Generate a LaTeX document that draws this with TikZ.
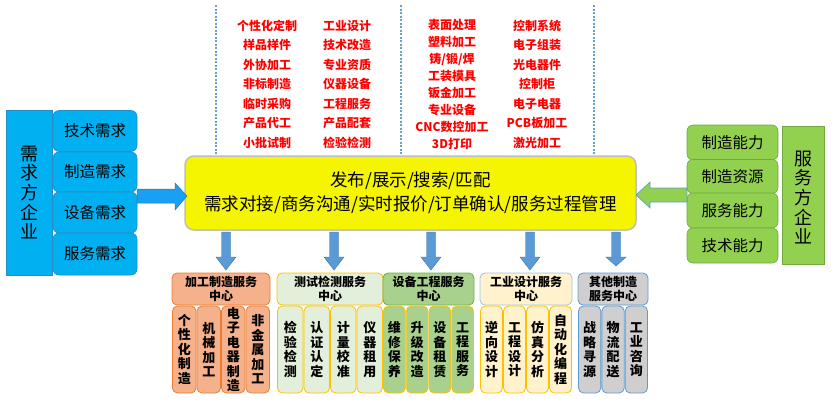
\documentclass[tikz,border=0pt]{standalone}
\usepackage{fontspec}
\setmainfont{Noto Sans CJK SC}
\usetikzlibrary{calc}
\definecolor{cblue}{HTML}{00B0F0}
\definecolor{cbluedk}{HTML}{2A8CC4}
\definecolor{cgreen}{HTML}{92D050}
\definecolor{cgreendk}{HTML}{72A842}
\definecolor{dotblue}{HTML}{6A9FD4}
\definecolor{arrblue}{HTML}{5B9BD5}
\definecolor{arrbluedk}{HTML}{41719C}
\definecolor{cyel}{HTML}{F5F500}
\definecolor{oran}{HTML}{F5B08C}
\definecolor{orandk}{HTML}{ED7D31}
\definecolor{lgreen}{HTML}{E2EFDA}
\definecolor{gold}{HTML}{FFC000}
\definecolor{mgreen}{HTML}{A9D18E}
\definecolor{mgreendk}{HTML}{70AD47}
\definecolor{lyel}{HTML}{FFF2CC}
\definecolor{lblue}{HTML}{9DC3E6}
\definecolor{lgray}{HTML}{D0CECE}
\begin{document}
\begin{tikzpicture}[x=1pt,y=-1pt,
  redtxt/.style={text=red, font=\bfseries\fontsize{12}{19.5}\selectfont, align=center, inner sep=0pt},
  redtxtb/.style={redtxt, font=\bfseries\fontsize{12}{16.9}\selectfont},
  dotline/.style={dotblue, line width=2pt, dash pattern=on 2pt off 1.5pt},
  bluebox/.style={fill=cblue, draw=cbluedk, line width=0.6pt, rounded corners=6pt, inner sep=0pt, font=\fontsize{15.5}{18}\selectfont},
  greenbox/.style={fill=cgreen, draw=cgreendk, line width=0.6pt, rounded corners=6pt, inner sep=0pt, font=\fontsize{15.5}{18}\selectfont},
  bigvert/.style={inner sep=0pt, align=center, font=\fontsize{18}{19.6}\selectfont},
  hdr/.style={rounded corners=5pt, line width=0.8pt, inner sep=0pt, align=center, font=\bfseries\fontsize{12}{14}\selectfont, minimum height=32pt},
  col/.style={rounded corners=5pt, line width=0.8pt, inner sep=0pt, align=center, font=\bfseries\fontsize{13}{14.5}\selectfont, minimum height=87pt},
  darr/.style={fill=arrblue, draw=arrbluedk, line width=0.4pt}
]
\useasboundingbox (0,0) rectangle (835,402);

% dotted vertical lines
\coordinate (d1a) at (216,5); \coordinate (d1b) at (216,156);
\coordinate (d2a) at (401,5); \coordinate (d2b) at (401,156);
\coordinate (d3a) at (594,5); \coordinate (d3b) at (594,156);
\draw[dotline] (d1a) -- (d1b);
\draw[dotline] (d2a) -- (d2b);
\draw[dotline] (d3a) -- (d3b);

% red texts
\node[redtxt] (r1) at (267,84) {个性化定制\\样品样件\\外协加工\\非标制造\\临时采购\\产品代工\\小批试制};
\node[redtxt] (r2) at (347,84) {工业设计\\技术改造\\专业资质\\仪器设备\\工程服务\\产品配套\\检验检测};
\node[redtxtb] (r3) at (452,84.5) {表面处理\\塑料加工\\铸/锻/焊\\工装模具\\钣金加工\\专业设备\\CNC数控加工\\3D打印};
\node[redtxt] (r4) at (537,84) {控制系统\\电子组装\\光电器件\\控制柜\\电子电器\\PCB板加工\\激光加工};

% central yellow box
\node[fill=cyel, draw=black!25, line width=1.5pt, rounded corners=9pt, minimum width=451pt, minimum height=74pt, inner sep=0pt,
  align=center, font=\fontsize{17.5}{24}\selectfont] (hub) at (410.5,193)
  {发布/展示/搜索/匹配\\需求对接/商务沟通/实时报价/订单确认/服务过程管理};

% left side
\node[fill=cblue, draw=cbluedk, line width=0.6pt, minimum width=46pt, minimum height=165pt, inner sep=0pt] (demand) at (29,192.5) {};
\node[bigvert] at (demand.center) {需\\求\\方\\企\\业};
\node[bluebox, minimum width=84pt, minimum height=41pt] (b1) at (95,131) {技术需求};
\node[bluebox, minimum width=84pt, minimum height=40pt] (b2) at (95,172) {制造需求};
\node[bluebox, minimum width=84pt, minimum height=41pt] (b3) at (95,212.5) {设备需求};
\node[bluebox, minimum width=84pt, minimum height=42pt] (b4) at (95,254) {服务需求};

% left arrow
\filldraw[fill=cblue!85!blue!90, draw=arrbluedk, line width=0.5pt]
  (137,189) -- (175,189) -- (175,183) -- (187,196) -- (175,210) -- (175,203) -- (137,203) -- cycle;

% right side
\node[fill=cgreen, draw=cgreendk, line width=0.6pt, minimum width=42pt, minimum height=138pt, inner sep=0pt] (supply) at (803,195) {};
\node[bigvert] at (803,197.5) {服\\务\\方\\企\\业};
\node[greenbox, minimum width=91pt, minimum height=35pt] (g1) at (732.5,142.5) {制造能力};
\node[greenbox, minimum width=91pt, minimum height=34pt] (g2) at (732.5,176.5) {制造资源};
\node[greenbox, minimum width=91pt, minimum height=35pt] (g3) at (732.5,210.5) {服务能力};
\node[greenbox, minimum width=91pt, minimum height=35pt] (g4) at (732.5,245.5) {技术能力};

% right arrow
\filldraw[fill=cgreen, draw=arrblue, line width=0.6pt]
  (687,188) -- (650,188) -- (650,182) -- (636,195) -- (650,208) -- (650,202) -- (687,202) -- cycle;

% down arrows
\foreach \x/\t in {226/270,334/270,431/270,530/270,616/266}{
  \filldraw[darr] ({\x-4.5},232) -- ({\x+4.5},232) -- ({\x+4.5},257) -- ({\x+10},257) -- (\x,\t) -- ({\x-10},257) -- ({\x-4.5},257) -- cycle;
}

% group 1: orange
\node[hdr, fill=oran, draw=orandk, minimum width=98pt] (h1) at (221,289) {加工制造服务\\中心};
\node[col, fill=oran, draw=orandk, minimum width=23.5pt] (c11) at (184.25,349.5) {个\\性\\化\\制\\造};
\node[col, fill=oran, draw=orandk, minimum width=23.5pt] (c12) at (208.75,349.5) {机\\械\\加\\工};
\node[col, fill=oran, draw=orandk, minimum width=23.5pt] (c13) at (233.25,349.5) {电\\子\\电\\器\\制\\造};
\node[col, fill=oran, draw=orandk, minimum width=23.5pt] (c14) at (257.75,349.5) {非\\金\\属\\加\\工};

% group 2: test
\node[hdr, fill=lgreen, draw=gold, minimum width=106pt] (h2) at (330,289) {测试检测服务\\中心};
\node[col, fill=lgreen, draw=gold, minimum width=25.5pt] (c21) at (290.25,349.5) {检\\验\\检\\测};
\node[col, fill=lgreen, draw=gold, minimum width=25.5pt] (c22) at (316.75,349.5) {认\\证\\认\\定};
\node[col, fill=lgreen, draw=gold, minimum width=25.5pt] (c23) at (343.25,349.5) {计\\量\\校\\准};
\node[col, fill=lgreen, draw=gold, minimum width=25.5pt] (c24) at (369.75,349.5) {仪\\器\\租\\用};

% group 3: equipment
\node[hdr, fill=mgreen, draw=mgreendk, minimum width=91pt] (h3) at (428.5,289) {设备工程服务\\中心};
\node[col, fill=mgreen, draw=gold, minimum width=21.75pt] (c31) at (394.375,349.5) {维\\修\\保\\养};
\node[col, fill=mgreen, draw=gold, minimum width=21.75pt] (c32) at (417.125,349.5) {升\\级\\改\\造};
\node[col, fill=mgreen, draw=gold, minimum width=21.75pt] (c33) at (439.875,349.5) {设\\备\\租\\赁};
\node[col, fill=mgreen, draw=gold, minimum width=21.75pt] (c34) at (462.625,349.5) {工\\程\\服\\务};

% group 4: design
\node[hdr, fill=lyel, draw=lblue, minimum width=92pt] (h4) at (526,289) {工业设计服务\\中心};
\node[col, fill=lyel, draw=gold, minimum width=22pt] (c41) at (491.5,349.5) {逆\\向\\设\\计};
\node[col, fill=lyel, draw=gold, minimum width=22pt] (c42) at (514.5,349.5) {工\\程\\设\\计};
\node[col, fill=lyel, draw=gold, minimum width=22pt] (c43) at (537.5,349.5) {仿\\真\\分\\析};
\node[col, fill=lyel, draw=gold, minimum width=22pt] (c44) at (560.5,349.5) {自\\动\\化\\编\\程};

% group 5: other
\node[hdr, fill=lgray, draw=arrblue, minimum width=70pt] (h5) at (613,289) {其他制造\\服务中心};
\node[col, fill=lgray, draw=arrblue, minimum width=22.3pt] (c51) at (589.67,349.5) {战\\略\\寻\\源};
\node[col, fill=lgray, draw=arrblue, minimum width=22.3pt] (c52) at (613,349.5) {物\\流\\配\\送};
\node[col, fill=lgray, draw=arrblue, minimum width=22.3pt] (c53) at (636.33,349.5) {工\\业\\咨\\询};
\end{tikzpicture}
\end{document}
